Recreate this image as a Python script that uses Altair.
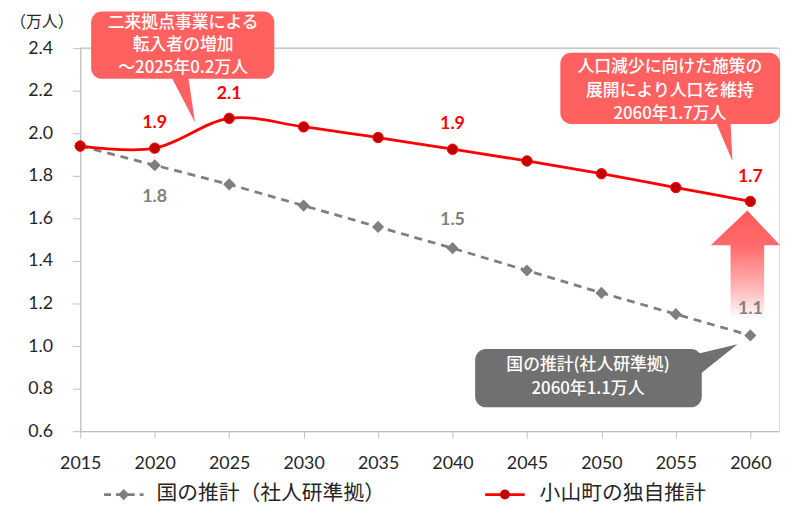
import altair as alt
import pandas as pd

# ---- data ----
years = [2015, 2020, 2025, 2030, 2035, 2040, 2045, 2050, 2055, 2060]
national = [1.94, 1.85, 1.76, 1.66, 1.56, 1.46, 1.355, 1.25, 1.15, 1.05]
oyama = [1.94, 1.93, 2.07, 2.03, 1.98, 1.925, 1.87, 1.81, 1.745, 1.68]

red_label_years = [2020, 2025, 2040, 2060]
red_label_text = ["1.9", "2.1", "1.9", "1.7"]
gray_label_years = [2020, 2040, 2060]
gray_label_text = ["1.8", "1.5", "1.1"]
gray_label_dy = [32, -28, -27]

y_ticks = [0.6, 0.8, 1.0, 1.2, 1.4, 1.6, 1.8, 2.0, 2.2, 2.4]
x_ticks = years

series_nat = "国の推計（社人研準拠）"
series_own = "小山町の独自推計"

JP = "Noto Sans CJK JP"
NUM = "Lato"

RED = "#FF0000"
DARKRED = "#C00000"
GRAY = "#7F7F7F"
BOX_RED = "#FF6161"
BOX_GRAY = "#707070"

XMAX = 2061.93
xs = alt.Scale(domain=[2015, XMAX], nice=False, zero=False)
ys = alt.Scale(domain=[0.6, 2.4], nice=False, zero=False)

x_axis = alt.Axis(values=x_ticks, format="d", title=None, grid=False,
                  domainColor="#BFBFBF", tickColor="#BFBFBF", tickSize=7,
                  labelPadding=17, labelFont=NUM, labelFontSize=18,
                  labelColor="#262626", domainWidth=1.2, labelFlush=False,
                  labelOverlap=False)
y_axis = alt.Axis(values=y_ticks, format=".1f", title=None, grid=False,
                  domainColor="#BFBFBF", tickColor="#BFBFBF", tickSize=8,
                  labelPadding=20, labelFont=NUM, labelFontSize=18,
                  labelColor="#262626", domainWidth=1.2, labelFlush=False,
                  labelOverlap=False)


def X(f, **kw):
    return alt.X(f, type="quantitative", scale=xs, axis=x_axis, **kw)


def Y(f, **kw):
    return alt.Y(f, type="quantitative", scale=ys, axis=y_axis, **kw)


def polygon(xv, yv, fill):
    d = pd.DataFrame({"o": list(range(len(xv) + 1)), "x": xv + [xv[0]], "y": yv + [yv[0]]})
    return alt.Chart(d).mark_line(fill=fill, stroke=None, strokeWidth=0,
                                  interpolate="linear").encode(
        x=X("x"), y=Y("y"), order=alt.Order("o:Q"))


df = pd.DataFrame({"year": years, "nat": national, "own": oyama})

# big gradient arrow (annotation)
arrow_layer = polygon(
    [2058.67, 2060.93, 2060.93, 2062.0, 2059.8, 2057.34, 2058.67],
    [1.126, 1.126, 1.474, 1.474, 1.637, 1.474, 1.474],
    alt.Gradient(
        gradient="linear",
        stops=[alt.GradientStop(color="#FFFFFF", offset=0),
               alt.GradientStop(color="#FFB4B4", offset=0.3),
               alt.GradientStop(color="#FF6A6A", offset=0.68),
               alt.GradientStop(color="#FF5A5A", offset=1)],
        x1=0, x2=0, y1=1, y2=0),
)

top_rule = alt.Chart(pd.DataFrame({"a": [2015], "b": [XMAX], "y": [2.4]})).mark_rule(
    color="#BFBFBF", strokeWidth=1.2).encode(x=X("a"), x2="b", y=Y("y"))

nat_line = alt.Chart(df).mark_line(color=GRAY, strokeWidth=2.8, strokeDash=[8, 6]).encode(
    x=X("year"), y=Y("nat"))
nat_pts = alt.Chart(df).mark_point(shape="diamond", filled=True, color=GRAY, size=150,
                                   opacity=1).encode(x=X("year"), y=Y("nat"))

own_line = alt.Chart(df).mark_line(color=RED, strokeWidth=2.8, interpolate="cardinal").encode(
    x=X("year"), y=Y("own"))
own_pts = alt.Chart(df).mark_point(shape="circle", filled=True, color=DARKRED, size=110,
                                   opacity=1, stroke=RED, strokeWidth=1).encode(
    x=X("year"), y=Y("own"))

red_lab = pd.DataFrame({"year": red_label_years,
                        "v": [oyama[years.index(y)] for y in red_label_years],
                        "t": red_label_text})
red_text = alt.Chart(red_lab).mark_text(font=NUM, fontSize=18, fontWeight="bold",
                                        color=RED, dy=-25).encode(
    x=X("year"), y=Y("v"), text="t:N")

gray_lab = pd.DataFrame({"year": gray_label_years,
                         "v": [national[years.index(y)] for y in gray_label_years],
                         "t": gray_label_text, "dy": gray_label_dy})
gray_texts = []
for i in range(len(gray_lab)):
    gray_texts.append(alt.Chart(gray_lab.iloc[[i]]).mark_text(
        font=NUM, fontSize=18, fontWeight="bold", color=GRAY,
        dy=int(gray_lab["dy"].iloc[i])).encode(x=X("year"), y=Y("v"), text="t:N"))

# callouts
boxes = pd.DataFrame({
    "x1": [2015.73, 2047.24], "x2": [2028.03, 2062.0],
    "y1": [2.572, 2.378], "y2": [2.256, 2.044],
})
red_boxes = alt.Chart(boxes).mark_rect(color=BOX_RED, cornerRadius=11).encode(
    x=X("x1"), x2="x2", y=Y("y1"), y2="y2")

tail1 = polygon([2021.12, 2022.25, 2022.71], [2.265, 2.265, 2.051], BOX_RED)
tail2 = polygon([2057.67, 2058.67, 2058.80], [2.055, 2.055, 1.870], BOX_RED)

gbox = pd.DataFrame({"x1": [2041.52], "x2": [2056.74], "y1": [0.986], "y2": [0.712]})
gray_box = alt.Chart(gbox).mark_rect(color=BOX_GRAY, cornerRadius=11).encode(
    x=X("x1"), x2="x2", y=Y("y1"), y2="y2")
gray_tail = polygon([2056.4, 2056.4, 2059.14], [0.963, 0.856, 1.009], BOX_GRAY)

callout_text = pd.DataFrame({
    "x": [2021.91, 2021.91, 2021.91, 2054.6, 2054.6, 2054.6, 2049.1, 2049.1],
    "y": [2.520, 2.413, 2.305, 2.310, 2.200, 2.090, 0.909, 0.798],
    "t": ["二来拠点事業による", "転入者の増加", "～2025年0.2万人",
          "人口減少に向けた施策の", "展開により人口を維持", "2060年1.7万人",
          "国の推計(社人研準拠)", "2060年1.1万人"],
})
ctext = alt.Chart(callout_text).mark_text(font=JP, fontSize=17, fontWeight=500,
                                          color="white", baseline="middle").encode(
    x=X("x"), y=Y("y"), text="t:N")

# unit label
unit = alt.Chart(pd.DataFrame({"x": [2010.3], "y": [2.521], "t": ["（万人）"]})).mark_text(
    font=JP, fontSize=16, color="#262626", baseline="middle", align="left").encode(
    x=X("x"), y=Y("y"), text="t:N")

# legend
LY = 0.3023
leg_lines = pd.DataFrame({"a": [2016.60, 2042.19], "b": [2019.25, 2044.85], "y": [LY, LY]})
leg_nat_line = alt.Chart(leg_lines.iloc[[0]]).mark_rule(color=GRAY, strokeWidth=2.8,
                                                         strokeDash=[7, 5]).encode(
    x=X("a"), x2="b", y=Y("y"))
leg_own_line = alt.Chart(leg_lines.iloc[[1]]).mark_rule(color=RED, strokeWidth=2.8).encode(
    x=X("a"), x2="b", y=Y("y"))
leg_nat_pt = alt.Chart(pd.DataFrame({"x": [2017.92], "y": [LY]})).mark_point(
    shape="diamond", filled=True, color=GRAY, size=130, opacity=1).encode(x=X("x"), y=Y("y"))
leg_own_pt = alt.Chart(pd.DataFrame({"x": [2043.52], "y": [LY]})).mark_point(
    shape="circle", filled=True, color=DARKRED, size=100, opacity=1).encode(x=X("x"), y=Y("y"))
leg_text = alt.Chart(pd.DataFrame({"x": [2020.12, 2045.85], "y": [LY, LY],
                                   "t": [series_nat, series_own]})).mark_text(
    font=JP, fontSize=21, color="#262626", align="left", baseline="middle").encode(
    x=X("x"), y=Y("y"), text="t:N")

chart = alt.layer(
    arrow_layer, top_rule, nat_line, nat_pts, own_line, own_pts,
    red_text, *gray_texts,
    tail1, tail2, red_boxes, gray_tail, gray_box, ctext, unit,
    leg_nat_line, leg_own_line, leg_nat_pt, leg_own_pt, leg_text,
).properties(
    width=706, height=387,
    autosize=alt.AutoSizeParams(type="none"),
    padding={"left": 73, "top": 38, "right": 5, "bottom": 72},
).configure_view(stroke=None).configure(background="white")

chart.save("out.html", embed_options={"renderer": "svg", "actions": False})
